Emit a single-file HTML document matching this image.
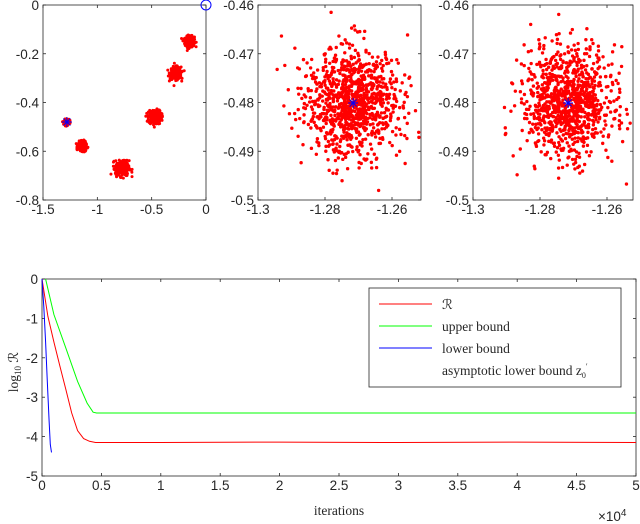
<!DOCTYPE html>
<html><head><meta charset="utf-8"><style>
body{margin:0;background:#fff;width:640px;height:524px;overflow:hidden}
svg{display:block}
text{font-family:"Liberation Sans",sans-serif;font-size:13.5px;fill:#262626}
.serif{font-family:"Liberation Serif",serif}
</style></head><body>
<svg id="fig" width="640" height="524" xmlns="http://www.w3.org/2000/svg"></svg>
<script>
// ---- data ----
const clusterX=[-0.15,-0.28,-0.47,-1.28,-1.14,-0.77];
const clusterY=[-0.15,-0.28,-0.46,-0.48,-0.58,-0.67];
const clusterSpread=[0.024,0.028,0.032,0.012,0.02,0.035];
const zoomCenterX=[-1.2716,-1.2716];
const zoomCenterY=[-0.4801,-0.4801];
const p1XTicks=[-1.5,-1,-0.5,0];
const p1YTicks=[0,-0.2,-0.4,-0.6,-0.8];
const pzXTicks=[-1.3,-1.28,-1.26];
const pzYTicks=[-0.46,-0.47,-0.48,-0.49,-0.5];
const iterX=[0,500,1000,1500,2000,2500,3000,3500,4000,4500,5000,10000,20000,30000,40000,50000];
const redY=[0,-0.95,-1.6,-2.2,-2.8,-3.4,-3.85,-4.05,-4.12,-4.15,-4.15,-4.15,-4.14,-4.15,-4.14,-4.15];
const greenX=[300,1000,2000,3000,3800,4300,4600,10000,20000,30000,40000,50000];
const greenY=[0,-0.9,-1.75,-2.6,-3.15,-3.38,-3.4,-3.4,-3.4,-3.4,-3.4,-3.4];
const blueX=[0,150,300,450,600,700,800];
const blueY=[0,-0.7,-1.6,-2.6,-3.6,-4.2,-4.4];
const bXTicks=[0,0.5,1,1.5,2,2.5,3,3.5,4,4.5,5];
const bYTicks=[0,-1,-2,-3,-4,-5];
const legendLabels=["\u211B","upper bound","lower bound","asymptotic lower bound"];
const legendColors=["#ff0000","#00ff00","#0000ff","none"];

const NS="http://www.w3.org/2000/svg";
const fig=document.getElementById('fig');
function mk(tag,attrs,parent){const e=document.createElementNS(NS,tag);for(const k in attrs)e.setAttribute(k,attrs[k]);(parent||fig).appendChild(e);return e;}
let seed=12345;function rnd(){seed=(seed*1103515245+12345)%2147483648;return seed/2147483648;}
function gauss(){let u=rnd()||1e-9,v=rnd();return Math.sqrt(-2*Math.log(u))*Math.cos(2*Math.PI*v);}

function panel(name,L,R,T,B,x0,x1,y0,y1,xt,yt,xfmt,yfmt){
  const g=mk('g',{});
  
  
  const sx=v=>L+(v-x0)/(x1-x0)*(R-L), sy=v=>T+(y1-v)/(y1-y0)*(B-T);
  mk('rect',{x:L,y:T,width:R-L,height:B-T,fill:'none',stroke:'#262626','stroke-width':0.8},g);
  xt.forEach(t=>{const x=sx(t);mk('line',{x1:x,x2:x,y1:B,y2:B-3,stroke:'#262626','stroke-width':0.8},g);mk('line',{x1:x,x2:x,y1:T,y2:T+3,stroke:'#262626','stroke-width':0.8},g);
    const tx=mk('text',{x:x,y:B+14,'text-anchor':'middle'},g);tx.textContent=xfmt(t);
    
    });
  yt.forEach(t=>{const y=sy(t);mk('line',{x1:L,x2:L+3,y1:y,y2:y,stroke:'#262626','stroke-width':0.8},g);mk('line',{x1:R,x2:R-3,y1:y,y2:y,stroke:'#262626','stroke-width':0.8},g);
    const tx=mk('text',{x:L-4,y:y+5,'text-anchor':'end'},g);tx.textContent=yfmt(t);
    
    });
  return {g,sx,sy};
}
const fmt=v=>String(v);

// panel 1
const p1=panel('scatter-overview',43,206,5,200,-1.5,0,-0.8,0,p1XTicks,p1YTicks,fmt,fmt);
clusterX.forEach((cx,i)=>{for(let k=0;k<300;k++){const x=cx+gauss()*clusterSpread[i]*0.9,y=clusterY[i]+gauss()*clusterSpread[i]*0.45;
  mk('circle',{cx:p1.sx(x),cy:p1.sy(y),r:1.5,fill:'#ff0000'},p1.g);}});
const c0=mk('circle',{cx:p1.sx(0),cy:p1.sy(0),r:5,fill:'none',stroke:'#0000ff','stroke-width':1},p1.g);


function star(p,x,y,s){const X=p.sx(x),Y=p.sy(y);[[s,0],[0,s],[s*.7,s*.7],[s*.7,-s*.7]].forEach(d=>mk('line',{x1:X-d[0],y1:Y-d[1],x2:X+d[0],y2:Y+d[1],stroke:'#0000ff','stroke-width':1},p.g));}
star(p1,-1.28,-0.48,5);

// zoom panels
const zoomBounds=[[258,421,-1.3,-1.3+(421-258)/67*0.02],[473,633,-1.3,-1.3+(633-473)/67*0.02]];
zoomBounds.forEach((b,j)=>{
  const p=panel('scatter-zoom-'+(j+1),b[0],b[1],5,200,b[2],b[3],-0.5,-0.46,pzXTicks,pzYTicks,fmt,fmt);
  seed=999+j*77;
  for(let k=0;k<1000;k++){const x=zoomCenterX[j]+gauss()*0.0068,y=zoomCenterY[j]+gauss()*0.0055;
    if(x>b[2]&&x<b[3]&&y>-0.5&&y<-0.46)mk('circle',{cx:p.sx(x),cy:p.sy(y),r:1.7,fill:'#ff0000'},p.g);}
  star(p,zoomCenterX[j],zoomCenterY[j],5);
});

// bottom chart
const pb=panel('convergence-chart',42,636,279,476,0,5,-5,0,bXTicks,bYTicks,fmt,fmt);
const bx=v=>pb.sx(v/10000);
function line(xs,ys,color,name){const d=xs.map((x,i)=>(i?'L':'M')+bx(x).toFixed(1)+','+pb.sy(ys[i]).toFixed(1)).join('');
  const p=mk('path',{d:d,fill:'none',stroke:color,'stroke-width':1},pb.g);
  
  }
line(greenX,greenY,'#00ff00','upper-bound-line');
line(iterX,redY,'#ff0000','r-line');
line(blueX,blueY,'#0000ff','lower-bound-line');
let t=mk('text',{x:339,y:515,'text-anchor':'middle',class:'serif','font-size':'14'});t.textContent='iterations';


t=mk('text',{x:598,y:521,'font-size':'13'});t.innerHTML='×10<tspan dy="-5" font-size="10">4</tspan>';


t=mk('text',{x:0,y:0,class:'serif','text-anchor':'middle',transform:'translate(18,372) rotate(-90)','font-size':'13'});t.innerHTML='log<tspan dy="3" font-size="9">10</tspan><tspan dy="-3"> \u211B</tspan>';



// legend
const lg=mk('g',{});


mk('rect',{x:369,y:288,width:252,height:99,fill:'#fff',stroke:'#262626','stroke-width':0.8},lg);
legendLabels.forEach((lab,i)=>{const y=306+i*22;
  if(legendColors[i]!=='none')mk('line',{x1:379,x2:432,y1:y-2,y2:y-2,stroke:legendColors[i],'stroke-width':1},lg);
  const tx=mk('text',{x:442,y:y+3,class:'serif','font-size':'12.5'},lg);
  tx.textContent=lab;
  if(i===3){tx.innerHTML=lab+' z<tspan dy="3" font-size="8">0</tspan><tspan dy="-9" font-size="8">\u2032</tspan>';}
  
  
});
</script>
</body></html>
